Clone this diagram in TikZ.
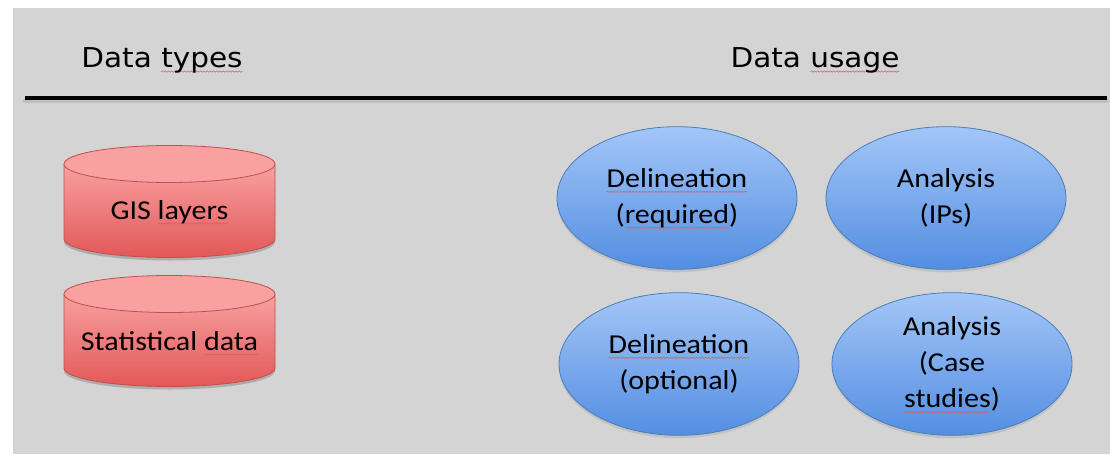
\documentclass[tikz,border=0pt]{standalone}
\usepackage{fontspec}
\setmainfont{Carlito}
\newfontfamily\headfont[FakeStretch=1.08]{DejaVu Sans}
\newfontfamily\shapefont[FakeStretch=1.1]{Carlito}
\usetikzlibrary{shapes.geometric,shadows,decorations.pathmorphing}
\definecolor{panel}{RGB}{212,212,212}
\definecolor{redtop}{RGB}{249,160,160}
\definecolor{redbot}{RGB}{226,88,88}
\definecolor{redline}{RGB}{192,80,77}
\definecolor{bluetop}{RGB}{163,198,247}
\definecolor{bluebot}{RGB}{84,142,226}
\definecolor{blueline}{RGB}{74,126,187}
\definecolor{squig}{RGB}{220,90,100}
\newlength\rwlen
\newcommand\rw[1]{\settowidth\rwlen{#1}\rlap{\tikz[overlay,baseline=0pt,x=1pt,y=1pt]\draw[squig,line width=0.4pt,decorate,decoration={snake,amplitude=0.5pt,segment length=2.4pt}] (0pt,-3.4pt) -- (\rwlen,-3.4pt);}#1}
\tikzset{
  head/.style={font=\headfont\fontsize{20.5}{24}\selectfont, inner sep=0pt, anchor=base},
  usage/.style={ellipse, draw=blueline, line width=0.6pt, top color=bluetop, bottom color=bluebot,
    minimum width=180pt, minimum height=107pt, inner sep=0pt, align=center,
    font=\shapefont\fontsize{20.5}{27}\selectfont,
    drop shadow={opacity=0.22, shadow xshift=0pt, shadow yshift=-2.2pt}},
  cyltext/.style={font=\shapefont\fontsize{20.5}{24}\selectfont, inner sep=0pt, anchor=base},
  cylbody/.style={top color=redtop, bottom color=redbot},
  cyledge/.style={draw=redline, line width=0.6pt},
}
\begin{document}
\begin{tikzpicture}[x=0.75pt, y=-0.75pt]
\useasboundingbox (0,0) rectangle (1110,454);
\fill[white] (0,0) rectangle (1110,454);
\fill[panel] (13,8) rectangle (1110,454);
% header rule
\coordinate (rl) at (25,98);
\coordinate (rr) at (1107,98);
\draw[line width=3pt, black!25, line cap=round] ([yshift=-2pt]rl) -- ([yshift=-2pt]rr);
\draw[line width=2.6pt, black] (rl) -- (rr);
% headings
\node[head] (ht) at (162,67) {Data \rw{types}};
\node[head] (hu) at (815,67) {Data \rw{usage}};
% cylinders
\foreach \cy/\cb in {164/239, 294/368}{
  \fill[black, opacity=0.18] (64,\cy+2) -- (64,\cb+3) arc[start angle=180, end angle=0, x radius=105.5, y radius=18.5] -- (275,\cy+2) -- cycle;
  \path[cylbody] (64,\cy) -- (64,\cb) arc[start angle=180, end angle=0, x radius=105.5, y radius=18.5] -- (275,\cy) -- cycle;
  \draw[cyledge] (64,\cy) -- (64,\cb) arc[start angle=180, end angle=0, x radius=105.5, y radius=18.5] -- (275,\cy);
  \draw[cyledge, fill=redtop] (169.5,\cy) ellipse[x radius=105.5, y radius=18.5];
}
\node[cyltext] (gis) at (169.5,219) {GIS \rw{layers}};
\node[cyltext] (stat) at (169.5,350) {Statistical \rw{data}};
% usage ellipses
\node[usage] (dreq) at (677,198) {\rw{Delineation}\\(\rw{required})};
\node[usage] (aip) at (946,198) {Analysis\\(IPs)};
\node[usage] (dopt) at (679,364) {\rw{Delineation}\\(optional)};
\node[usage] (acs) at (952,364) {Analysis\\(Case\\\rw{studies})};
\end{tikzpicture}
\end{document}
